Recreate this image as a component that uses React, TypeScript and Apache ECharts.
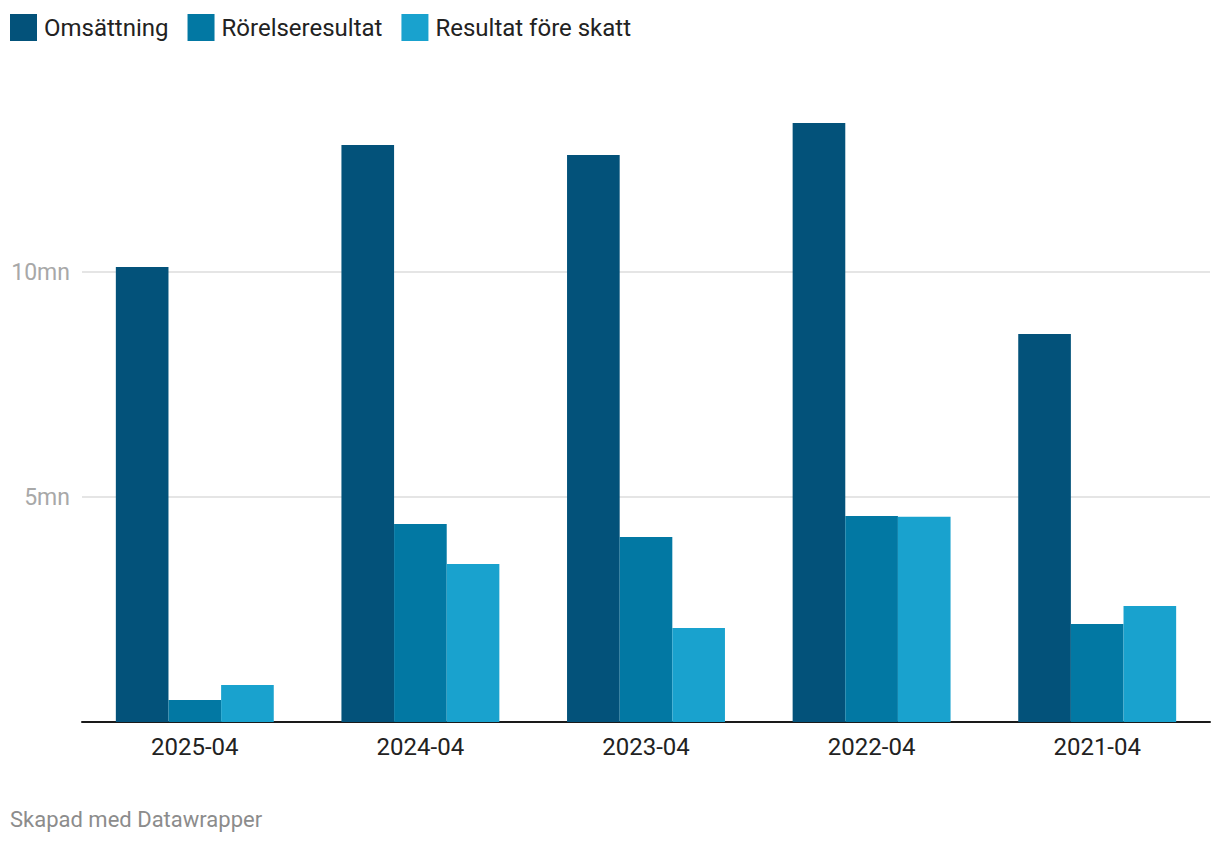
import React, { useEffect, useRef } from "react";
import * as echarts from "echarts";

const categories = ["2025-04", "2024-04", "2023-04", "2022-04", "2021-04"];
const omsattning = [10.11, 12.82, 12.6, 13.31, 8.62];
const rorelseresultat = [0.49, 4.4, 4.11, 4.58, 2.18];
const resultatForeSkatt = [0.82, 3.51, 2.09, 4.56, 2.58];
const seriesNames = ["Omsättning", "Rörelseresultat", "Resultat före skatt"];
const colors = ["#03527a", "#0278a3", "#19a2ce"];

export default function App() {
  const ref = useRef<HTMLDivElement>(null);
  useEffect(() => {
    if (!ref.current) return;
    const chart = echarts.init(ref.current, null, { renderer: "svg" });
    const font = "Roboto";
    const datasets = [omsattning, rorelseresultat, resultatForeSkatt];
    chart.setOption({
      animation: false,
      backgroundColor: "#ffffff",
      textStyle: { fontFamily: font },
      legend: {
        left: 10,
        top: 14,
        padding: 0,
        itemWidth: 27,
        itemHeight: 27,
        itemGap: 19,
        icon: "rect",
        textStyle: { fontSize: 24, color: "#222222", fontFamily: font, padding: [0, 0, 0, 2] },
        data: seriesNames,
      },
      grid: { left: 82, right: 10, top: 47, bottom: 122, containLabel: false },
      xAxis: {
        type: "category",
        data: categories,
        axisLine: { lineStyle: { color: "#1a1a1a", width: 2 } },
        axisTick: { show: false },
        axisLabel: { fontSize: 24, color: "#222222", margin: 13, fontFamily: font },
      },
      yAxis: {
        type: "value",
        min: 0,
        max: 15,
        interval: 5,
        axisLine: { show: false },
        axisTick: { show: false },
        splitLine: { lineStyle: { color: "#e5e5e5", width: 2 }, showMaxLine: false, showMinLine: false },
        axisLabel: {
          fontSize: 23,
          color: "#a8a8a8",
          margin: 12,
          fontFamily: font,
          formatter: (v: number) => (v === 5 || v === 10 ? `${v}mn` : ""),
        },
      },
      series: datasets.map((d, i) => ({
        name: seriesNames[i],
        type: "bar",
        data: d,
        barGap: "0%",
        barCategoryGap: "30%",
        itemStyle: { color: colors[i] },
      })),
      graphic: [
        {
          type: "text",
          left: 10,
          top: 808,
          style: { text: "Skapad med Datawrapper", fontSize: 22, fill: "#8c8c8c", fontFamily: font },
        },
      ],
    });
    return () => chart.dispose();
  }, []);
  return (
    <div
      ref={ref}
      style={{ position: "fixed", left: 0, top: 0, width: 1220, height: 844 }}
    />
  );
}
